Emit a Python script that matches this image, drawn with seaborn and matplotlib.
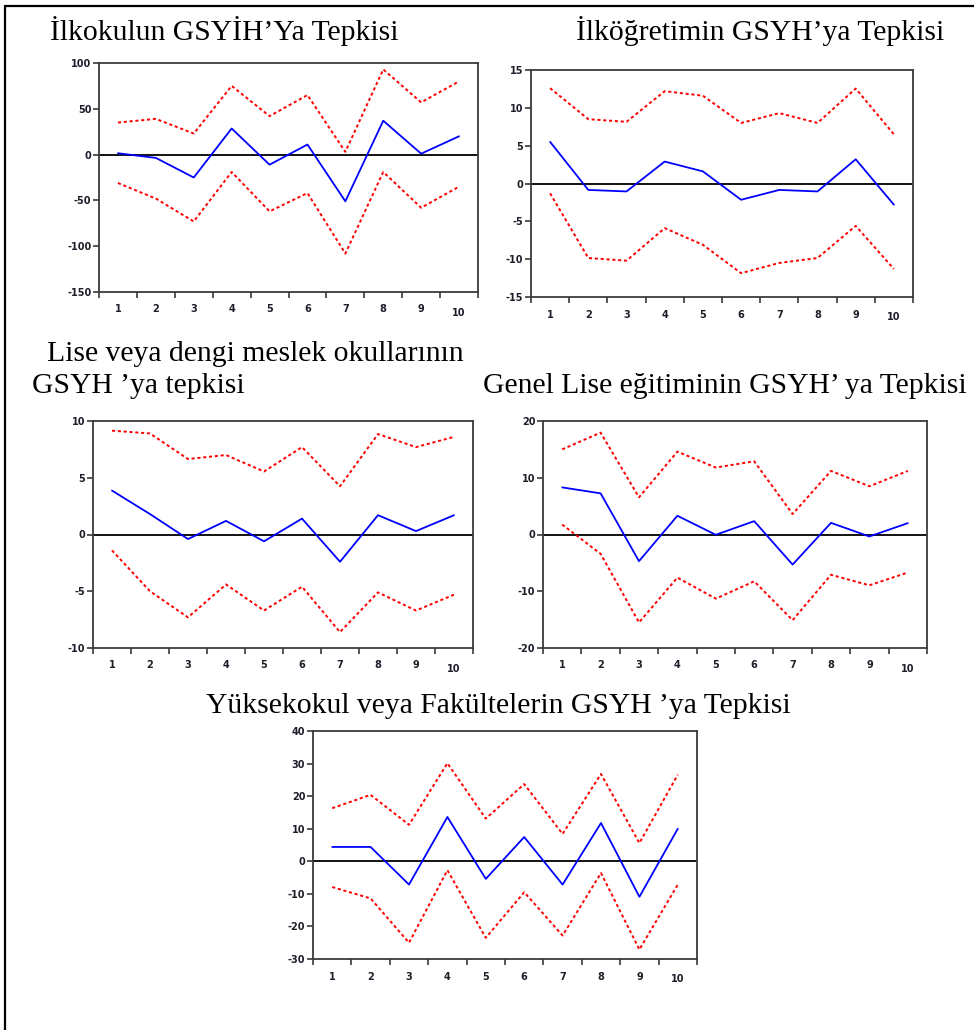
import matplotlib
matplotlib.use("Agg")
import numpy as np
import pandas as pd
import matplotlib.pyplot as plt
import seaborn as sns
from matplotlib.lines import Line2D
from matplotlib.transforms import ScaledTranslation

# ---------------- data ----------------
periods = list(range(1, 11))

p1_resp = [1.5, -3.6, -25, 28.5, -11, 11, -51, 37, 1, 20]
p1_upper = [35, 39, 23, 75, 42, 65, 3, 93, 57, 80]
p1_lower = [-31, -48, -73, -19, -62, -42, -108, -19, -58, -35]

p2_resp = [5.5, -0.85, -1.05, 2.9, 1.6, -2.15, -0.85, -1.05, 3.2, -2.8]
p2_upper = [12.6, 8.5, 8.15, 12.2, 11.6, 8.0, 9.3, 8.0, 12.55, 6.5]
p2_lower = [-1.3, -9.85, -10.2, -5.9, -8.1, -11.85, -10.5, -9.85, -5.6, -11.3]

p3_resp = [3.87, 1.8, -0.4, 1.2, -0.6, 1.4, -2.4, 1.7, 0.3, 1.7]
p3_upper = [9.15, 8.9, 6.65, 7.0, 5.55, 7.7, 4.25, 8.85, 7.7, 8.6]
p3_lower = [-1.4, -5.0, -7.3, -4.4, -6.7, -4.6, -8.6, -5.1, -6.7, -5.3]

p4_resp = [8.3, 7.25, -4.7, 3.3, -0.05, 2.35, -5.3, 2.05, -0.35, 2.0]
p4_upper = [15.0, 17.95, 6.55, 14.6, 11.8, 12.9, 3.6, 11.2, 8.5, 11.2]
p4_lower = [1.75, -3.4, -15.5, -7.6, -11.3, -8.25, -15.1, -7.1, -8.95, -6.7]

p5_resp = [4.4, 4.4, -7.15, 13.6, -5.4, 7.45, -7.15, 11.75, -10.9, 10.0]
p5_upper = [16.3, 20.4, 11.2, 30.1, 13.1, 23.7, 8.4, 26.8, 5.6, 26.6]
p5_lower = [-7.9, -11.4, -25.0, -2.75, -23.5, -9.5, -22.8, -3.6, -27.1, -7.15]

titles = [
    ["İlkokulun GSYİH’Ya Tepkisi"],
    ["İlköğretimin GSYH’ya Tepkisi"],
    ["Lise veya dengi meslek okullarının", "GSYH ’ya tepkisi"],
    ["Genel Lise eğitiminin GSYH’ ya Tepkisi"],
    ["Yüksekokul veya Fakültelerin GSYH ’ya Tepkisi"],
]

y_ticks = [
    [-150, -100, -50, 0, 50, 100],
    [-15, -10, -5, 0, 5, 10, 15],
    [-10, -5, 0, 5, 10],
    [-20, -10, 0, 10, 20],
    [-30, -20, -10, 0, 10, 20, 30, 40],
]

panels = [
    (p1_resp, p1_upper, p1_lower),
    (p2_resp, p2_upper, p2_lower),
    (p3_resp, p3_upper, p3_lower),
    (p4_resp, p4_upper, p4_lower),
    (p5_resp, p5_upper, p5_lower),
]

# ---------------- layout (pixels) ----------------
W, H = 974, 1030
axes_px = [  # left, top, right, bottom
    (99, 63, 478, 292),
    (531, 70, 913, 297),
    (93, 421, 473, 648),
    (543, 421, 927, 648),
    (313, 731, 697, 959),
]
title_px = [  # (x, baseline y) per line
    [(50, 40)],
    [(576, 40)],
    [(47, 361), (32, 393)],
    [(483, 393)],
    [(206, 713)],
]

sns.set_theme(style="white")
plt.rcParams["font.family"] = ["DejaVu Sans"]

fig = plt.figure(figsize=(W / 100, H / 100), dpi=100)
fig.patch.set_facecolor("white")

for i, (resp, up, lo) in enumerate(panels):
    l, t, r, b = axes_px[i]
    ax = fig.add_axes([l / W, 1 - b / H, (r - l) / W, (b - t) / H])
    df = pd.DataFrame({"period": periods, "resp": resp, "upper": up, "lower": lo})
    ax.axhline(0, color="black", lw=1.3, zorder=1)
    sns.lineplot(data=df, x="period", y="upper", ax=ax, color="#ff0000",
                 lw=1.4, linestyle=(0, (1.6, 1.4)), zorder=2)
    sns.lineplot(data=df, x="period", y="lower", ax=ax, color="#ff0000",
                 lw=1.4, linestyle=(0, (1.6, 1.4)), zorder=2)
    sns.lineplot(data=df, x="period", y="resp", ax=ax, color="#0000ff",
                 lw=1.3, zorder=3)
    yt = y_ticks[i]
    ax.set_ylim(yt[0], yt[-1])
    ax.set_yticks(yt)
    ax.set_yticklabels([str(v) for v in yt])
    ax.set_xlim(0.5, 10.5)
    ax.set_xticks(periods)
    ax.set_xticklabels([str(p) for p in periods])
    ax.set_xticks(np.arange(0.5, 11, 1.0), minor=True)
    ax.set_xlabel("")
    ax.set_ylabel("")
    ax.grid(False)
    for sp in ax.spines.values():
        sp.set_color("#3a3a3a")
        sp.set_linewidth(1.3)
    ax.tick_params(axis="y", which="major", direction="out", length=4, width=1.2,
                   color="#3a3a3a", labelsize=7, pad=1.5, labelcolor="#1e1e2a", left=True)
    ax.tick_params(axis="x", which="major", length=0, labelsize=7, pad=9,
                   labelcolor="#1e1e2a", bottom=True)
    ax.tick_params(axis="x", which="minor", direction="out", length=4, width=1.2,
                   color="#3a3a3a", bottom=True)
    for lab in ax.get_xticklabels() + ax.get_yticklabels():
        lab.set_fontweight("bold")
        lab.set_fontfamily("DejaVu Sans")
    labs = ax.get_xticklabels()
    labs[-1].set_transform(labs[-1].get_transform() +
                           ScaledTranslation(0, -3 / 100, fig.dpi_scale_trans))

    for (tx, ty), txt in zip(title_px[i], titles[i]):
        fig.text(tx / W, 1 - ty / H, txt, ha="left", va="baseline",
                 fontsize=21.3, family="Liberation Serif", color="black")

# outer frame (left and top edges visible)
fig.add_artist(Line2D([5 / W, 5 / W], [0, 1 - 6 / H], transform=fig.transFigure,
                      color="black", lw=1.6))
fig.add_artist(Line2D([5 / W, 1], [1 - 6 / H, 1 - 6 / H], transform=fig.transFigure,
                      color="black", lw=1.6))

fig.savefig("out.png", dpi=100, facecolor="white")
